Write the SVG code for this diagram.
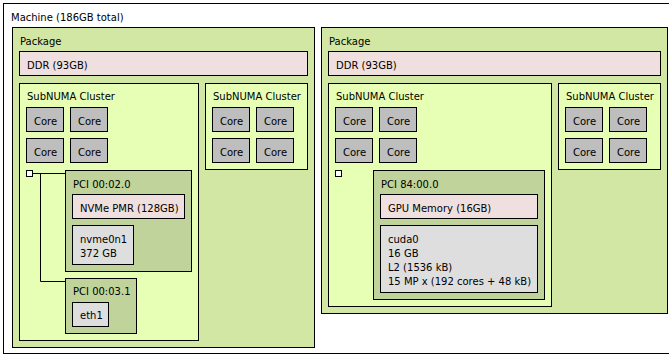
<svg xmlns="http://www.w3.org/2000/svg" width="669" height="356" viewBox="0 0 669 356">
<style>
rect{stroke:#000;stroke-width:1}
text{font-family:"DejaVu Sans",sans-serif;font-size:10px;fill:#000}
.mach{fill:#fff}
.pkg{fill:#d2e7a4}
.grp{fill:#e7ffb5}
.mem{fill:#efdfde}
.core{fill:#bebebe}
.pci{fill:#bfd39b}
.os{fill:#dedede}
.br{fill:#fff}
.link{stroke:#000;stroke-width:1;fill:none}
</style>
<g id="machine">
<rect class="mach" x="3.5" y="3.5" width="680" height="350"/>
<text x="11" y="21">Machine (186GB total)</text>
</g>
<g id="package0">
<rect class="pkg" x="12.5" y="27.5" width="302" height="320"/>
<text x="20" y="45">Package</text>
</g>
<g id="ddr0">
<rect class="mem" x="19.5" y="51.5" width="288" height="24"/>
<text x="27" y="69">DDR (93GB)</text>
</g>
<g id="subnuma0">
<rect class="grp" x="19.5" y="83.5" width="179" height="257"/>
<text x="27" y="100">SubNUMA Cluster</text>
</g>
<g id="core0"><rect class="core" x="26.5" y="107.5" width="37" height="24"/><text x="34" y="124.5">Core</text></g>
<g id="core1"><rect class="core" x="70.5" y="107.5" width="37" height="24"/><text x="78" y="124.5">Core</text></g>
<g id="core2"><rect class="core" x="26.5" y="138.5" width="37" height="24"/><text x="34" y="155.5">Core</text></g>
<g id="core3"><rect class="core" x="70.5" y="138.5" width="37" height="24"/><text x="78" y="155.5">Core</text></g>
<g id="subnuma1">
<rect class="grp" x="205.5" y="83.5" width="102" height="86"/>
<text x="213" y="100">SubNUMA Cluster</text>
</g>
<g id="core4"><rect class="core" x="212.5" y="107.5" width="37" height="24"/><text x="220" y="124.5">Core</text></g>
<g id="core5"><rect class="core" x="256.5" y="107.5" width="37" height="24"/><text x="264" y="124.5">Core</text></g>
<g id="core6"><rect class="core" x="212.5" y="138.5" width="37" height="24"/><text x="220" y="155.5">Core</text></g>
<g id="core7"><rect class="core" x="256.5" y="138.5" width="37" height="24"/><text x="264" y="155.5">Core</text></g>
<g id="connectors">
<path class="link" d="M32.5,173.5H65.5M40.5,173.5V281.5H65.5"/>
<path class="link" d="M341.5,173.5H373.5"/>
</g>
<g id="bridge0"><rect class="br" x="26.5" y="170.5" width="6" height="6"/></g>
<g id="pci0202">
<rect class="pci" x="65.5" y="170.5" width="126" height="101"/>
<text x="73" y="187.5">PCI 00:02.0</text>
</g>
<g id="nvmepmr">
<rect class="mem" x="72.5" y="194.5" width="112" height="24"/>
<text x="80" y="212">NVMe PMR (128GB)</text>
</g>
<g id="nvme0n1">
<rect class="os" x="72.5" y="225.5" width="61" height="39"/>
<text x="80" y="242.5">nvme0n1</text>
<text x="80" y="256.5">372 GB</text>
</g>
<g id="pci0031">
<rect class="pci" x="65.5" y="278.5" width="71" height="55"/>
<text x="73" y="295">PCI 00:03.1</text>
</g>
<g id="eth1">
<rect class="os" x="72.5" y="302.5" width="36" height="24"/>
<text x="80" y="319">eth1</text>
</g>
<g id="package1">
<rect class="pkg" x="321.5" y="27.5" width="346" height="286"/>
<text x="329" y="45">Package</text>
</g>
<g id="ddr1">
<rect class="mem" x="328.5" y="51.5" width="332" height="24"/>
<text x="336" y="69">DDR (93GB)</text>
</g>
<g id="subnuma2">
<rect class="grp" x="328.5" y="83.5" width="223" height="223"/>
<text x="336" y="100">SubNUMA Cluster</text>
</g>
<g id="core8"><rect class="core" x="335.5" y="107.5" width="37" height="24"/><text x="343" y="124.5">Core</text></g>
<g id="core9"><rect class="core" x="379.5" y="107.5" width="37" height="24"/><text x="387" y="124.5">Core</text></g>
<g id="core10"><rect class="core" x="335.5" y="138.5" width="37" height="24"/><text x="343" y="155.5">Core</text></g>
<g id="core11"><rect class="core" x="379.5" y="138.5" width="37" height="24"/><text x="387" y="155.5">Core</text></g>
<g id="subnuma3">
<rect class="grp" x="558.5" y="83.5" width="102" height="86"/>
<text x="566" y="100">SubNUMA Cluster</text>
</g>
<g id="core12"><rect class="core" x="565.5" y="107.5" width="37" height="24"/><text x="573" y="124.5">Core</text></g>
<g id="core13"><rect class="core" x="609.5" y="107.5" width="37" height="24"/><text x="617" y="124.5">Core</text></g>
<g id="core14"><rect class="core" x="565.5" y="138.5" width="37" height="24"/><text x="573" y="155.5">Core</text></g>
<g id="core15"><rect class="core" x="609.5" y="138.5" width="37" height="24"/><text x="617" y="155.5">Core</text></g>
<g id="bridge1"><rect class="br" x="335.5" y="170.5" width="6" height="6"/></g>
<g id="pci8400">
<rect class="pci" x="373.5" y="170.5" width="171" height="129"/>
<text x="381" y="187.5">PCI 84:00.0</text>
</g>
<g id="gpumem">
<rect class="mem" x="380.5" y="194.5" width="157" height="24"/>
<text x="388" y="212">GPU Memory (16GB)</text>
</g>
<g id="cuda0">
<rect class="os" x="380.5" y="225.5" width="157" height="67"/>
<text x="388" y="242.5">cuda0</text>
<text x="388" y="256.5">16 GB</text>
<text x="388" y="270.5">L2 (1536 kB)</text>
<text x="388" y="284.5">15 MP x (192 cores + 48 kB)</text>
</g>
</svg>
